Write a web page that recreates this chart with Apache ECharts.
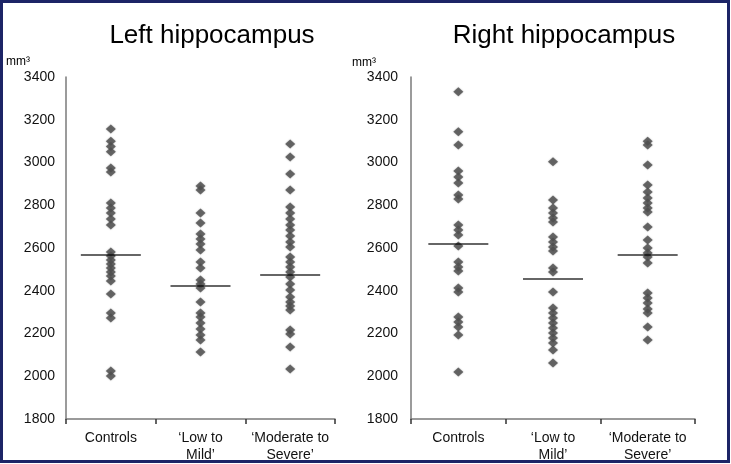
<!DOCTYPE html>
<html><head><meta charset="utf-8">
<script src="https://cdn.jsdelivr.net/npm/echarts@6/dist/echarts.min.js"></script>
<style>html,body{margin:0;padding:0;background:#fff}#c{width:731px;height:464px}</style>
</head><body><div id="c"></div>
<script>
const categories = ['Controls', '\u2018Low to\nMild\u2019', '\u2018Moderate to\nSevere\u2019'];
const panelTitles = ['Left hippocampus', 'Right hippocampus'];
const unitLabel = 'mm\u00b3';
const yMin = 1800, yMax = 3400, yStep = 200;

const leftControls = [3157, 3100, 3075, 3050, 2974, 2955, 2810, 2787, 2764, 2736, 2708, 2581, 2562, 2544, 2525, 2506, 2488, 2469, 2446, 2385, 2296, 2272, 2025, 2001];
const leftLowMild = [2890, 2871, 2764, 2717, 2665, 2642, 2619, 2591, 2534, 2506, 2450, 2432, 2413, 2347, 2296, 2277, 2249, 2221, 2193, 2170, 2113];
const leftModerate = [3086, 3026, 2946, 2871, 2792, 2764, 2736, 2708, 2684, 2656, 2628, 2605, 2558, 2534, 2511, 2488, 2464, 2432, 2403, 2371, 2347, 2329, 2310, 2216, 2198, 2137, 2034];
const leftMeans = [2567, 2422, 2474];

const rightControls = [3331, 3144, 3082, 2960, 2932, 2904, 2848, 2829, 2708, 2684, 2661, 2609, 2534, 2511, 2492, 2413, 2394, 2277, 2254, 2230, 2193, 2020];
const rightLowMild = [3004, 2824, 2787, 2764, 2740, 2722, 2651, 2628, 2605, 2586, 2506, 2488, 2394, 2319, 2296, 2272, 2249, 2226, 2202, 2179, 2156, 2123, 2062];
const rightModerate = [3100, 3082, 2988, 2895, 2862, 2834, 2810, 2787, 2768, 2698, 2637, 2600, 2577, 2558, 2530, 2389, 2366, 2343, 2315, 2296, 2230, 2170];
const rightMeans = [2619, 2455, 2567];

const FONT = "'Liberation Sans', Arial, sans-serif";
const pointColor = '#4f4f4f';
const axisColor = '#7a7a7a';

const panels = [
  {groups: [leftControls, leftLowMild, leftModerate], means: leftMeans},
  {groups: [rightControls, rightLowMild, rightModerate], means: rightMeans}
];

const grids = [
  {left: 66, top: 77, width: 269, height: 342},
  {left: 411, top: 77, width: 284, height: 342}
];

const xAxes = grids.map((g, i) => ({
  type: 'category', gridIndex: i, data: categories, boundaryGap: true,
  axisLine: {show: true, lineStyle: {color: axisColor, width: 1.5}},
  axisTick: {show: true, length: 5, lineStyle: {color: '#333', width: 1.5}},
  axisLabel: {color: '#111', fontFamily: FONT, fontSize: 14, margin: 11, lineHeight: 17, interval: 0}
}));
const yAxes = grids.map((g, i) => ({
  type: 'value', gridIndex: i, min: yMin, max: yMax, interval: yStep,
  axisLine: {show: true, lineStyle: {color: axisColor, width: 1.5}},
  axisTick: {show: false}, splitLine: {show: false},
  axisLabel: {color: '#111', fontFamily: FONT, fontSize: 14, margin: i === 0 ? 11 : 13, formatter: v => String(v)}
}));

const series = [];
panels.forEach((p, i) => {
  const pts = [];
  p.groups.forEach((arr, gi) => arr.forEach(v => pts.push([gi, v])));
  series.push({
    type: 'scatter', xAxisIndex: i, yAxisIndex: i, data: pts,
    symbol: 'diamond', symbolSize: [10, 9],
    itemStyle: {color: pointColor, shadowBlur: 1.5, shadowColor: 'rgba(80,80,80,0.6)'},
    z: 2, silent: true
  });
  series.push({
    type: 'scatter', xAxisIndex: i, yAxisIndex: i,
    data: p.means.map((v, gi) => [gi, v]),
    symbol: 'rect', symbolSize: [60, 1.6],
    itemStyle: {color: '#000'}, z: 3, silent: true
  });
});

const chart = echarts.init(document.getElementById('c'), null, {renderer: 'canvas'});
chart.setOption({
  animation: false,
  backgroundColor: '#fff',
  grid: grids,
  xAxis: xAxes,
  yAxis: yAxes,
  series: series,
  graphic: [
    {type: 'rect', shape: {x: 1.5, y: 1.5, width: 727, height: 460}, style: {fill: 'none', stroke: '#1c2466', lineWidth: 3}, z: 10},
    {type: 'text', x: 212, y: 36, style: {text: panelTitles[0], font: '26px ' + FONT, fill: '#000', textAlign: 'center', textVerticalAlign: 'middle'}},
    {type: 'text', x: 564, y: 36, style: {text: panelTitles[1], font: '26px ' + FONT, fill: '#000', textAlign: 'center', textVerticalAlign: 'middle'}},
    {type: 'text', x: 6, y: 62, style: {text: unitLabel, font: '12px ' + FONT, fill: '#000', textVerticalAlign: 'middle'}},
    {type: 'text', x: 352, y: 63, style: {text: unitLabel, font: '12px ' + FONT, fill: '#000', textVerticalAlign: 'middle'}}
  ]
});
</script></body></html>
